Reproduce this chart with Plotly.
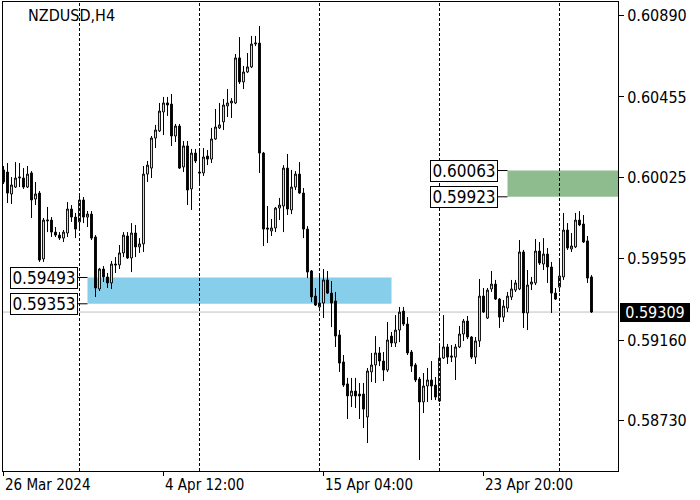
import plotly.graph_objects as go

symbol_title = "NZDUSD,H4"

open_ = [
    0.60066, 0.60055, 0.59938, 0.59975, 0.60023, 0.60023, 0.59975, 0.60050, 0.59911, 0.59943,
    0.59592, 0.59794, 0.59799, 0.59735, 0.59719, 0.59703, 0.59730, 0.59858, 0.59815, 0.59789,
    0.59906, 0.59815, 0.59831, 0.59709, 0.59432, 0.59538, 0.59496, 0.59464, 0.59565, 0.59560,
    0.59624, 0.59714, 0.59597, 0.59730, 0.59656, 0.59672, 0.60044, 0.60076, 0.60236, 0.60274,
    0.60375, 0.60423, 0.60417, 0.60247, 0.60300, 0.60082, 0.60194, 0.59965, 0.60156, 0.60055,
    0.60050, 0.60140, 0.60124, 0.60231, 0.60290, 0.60322, 0.60407, 0.60423, 0.60423, 0.60663,
    0.60535, 0.60588, 0.60615, 0.60737, 0.60742, 0.60156, 0.59757, 0.59741, 0.59757, 0.59863,
    0.59874, 0.60076, 0.59853, 0.59975, 0.60044, 0.59943, 0.59751, 0.59528, 0.59394, 0.59336,
    0.59357, 0.59480, 0.59410, 0.59368, 0.59187, 0.59043, 0.58926, 0.58862, 0.58888, 0.58872,
    0.58872, 0.58750, 0.58990, 0.59027, 0.59091, 0.59048, 0.59000, 0.59181, 0.59144, 0.59213,
    0.59314, 0.59245, 0.59096, 0.59027, 0.58952, 0.58830, 0.58915, 0.58947, 0.58920, 0.58835,
    0.59064, 0.59123, 0.59075, 0.59069, 0.59123, 0.59192, 0.59261, 0.59176, 0.59069, 0.59155,
    0.59394, 0.59277, 0.59432, 0.59458, 0.59378, 0.59282, 0.59330, 0.59389, 0.59426, 0.59432,
    0.59629, 0.59304, 0.59458, 0.59464, 0.59634, 0.59565, 0.59618, 0.59549, 0.59410, 0.59442,
    0.59496, 0.59746, 0.59645, 0.59656, 0.59799, 0.59778, 0.59688, 0.59496,
]

high = [
    0.60087, 0.60103, 0.60028, 0.60108, 0.60103, 0.60076, 0.60087, 0.60060, 0.60002, 0.59954,
    0.59810, 0.59869, 0.59815, 0.59762, 0.59735, 0.59746, 0.59895, 0.59879, 0.59837, 0.59938,
    0.59922, 0.59847, 0.59847, 0.59719, 0.59544, 0.59554, 0.59517, 0.59581, 0.59602, 0.59666,
    0.59735, 0.59735, 0.59783, 0.59773, 0.59703, 0.60087, 0.60114, 0.60247, 0.60306, 0.60423,
    0.60455, 0.60455, 0.60471, 0.60311, 0.60311, 0.60220, 0.60220, 0.60178, 0.60178, 0.60172,
    0.60183, 0.60172, 0.60290, 0.60391, 0.60423, 0.60444, 0.60497, 0.60449, 0.60684, 0.60774,
    0.60620, 0.60689, 0.60780, 0.60780, 0.60833, 0.60162, 0.59874, 0.59805, 0.59869, 0.59917,
    0.60092, 0.60151, 0.60066, 0.60060, 0.60108, 0.59970, 0.59767, 0.59533, 0.59437, 0.59501,
    0.59538, 0.59528, 0.59474, 0.59416, 0.59213, 0.59080, 0.58958, 0.58958, 0.58958, 0.58931,
    0.58931, 0.59011, 0.59091, 0.59181, 0.59123, 0.59096, 0.59256, 0.59203, 0.59293, 0.59336,
    0.59336, 0.59282, 0.59107, 0.59037, 0.58963, 0.58984, 0.59011, 0.59048, 0.58963, 0.59133,
    0.59293, 0.59139, 0.59133, 0.59139, 0.59235, 0.59272, 0.59288, 0.59181, 0.59176, 0.59485,
    0.59437, 0.59437, 0.59528, 0.59480, 0.59384, 0.59373, 0.59416, 0.59480, 0.59480, 0.59693,
    0.59640, 0.59533, 0.59496, 0.59698, 0.59682, 0.59703, 0.59650, 0.59576, 0.59437, 0.59597,
    0.59837, 0.59783, 0.59730, 0.59837, 0.59847, 0.59826, 0.59714, 0.59506,
]

low = [
    0.59991, 0.59890, 0.59885, 0.59970, 0.59975, 0.59965, 0.59970, 0.59810, 0.59879, 0.59576,
    0.59576, 0.59735, 0.59709, 0.59709, 0.59693, 0.59682, 0.59709, 0.59789, 0.59703, 0.59757,
    0.59783, 0.59762, 0.59693, 0.59389, 0.59421, 0.59469, 0.59437, 0.59432, 0.59517, 0.59538,
    0.59602, 0.59592, 0.59522, 0.59602, 0.59624, 0.59629, 0.60002, 0.60023, 0.60183, 0.60268,
    0.60252, 0.60354, 0.60194, 0.60215, 0.60071, 0.60055, 0.59879, 0.59853, 0.60103, 0.59997,
    0.60034, 0.60092, 0.60103, 0.60226, 0.60284, 0.60279, 0.60348, 0.60343, 0.60417, 0.60524,
    0.60497, 0.60583, 0.60609, 0.60726, 0.60050, 0.59661, 0.59677, 0.59714, 0.59735, 0.59799,
    0.59735, 0.59826, 0.59831, 0.59959, 0.59938, 0.59703, 0.59490, 0.59362, 0.59341, 0.59314,
    0.59277, 0.59405, 0.59229, 0.59123, 0.58990, 0.58910, 0.58739, 0.58803, 0.58798, 0.58739,
    0.58691, 0.58611, 0.58936, 0.58931, 0.59021, 0.58941, 0.58990, 0.59123, 0.59123, 0.59149,
    0.59235, 0.59080, 0.58990, 0.58936, 0.58521, 0.58771, 0.58830, 0.58840, 0.58840, 0.58830,
    0.59059, 0.59032, 0.59043, 0.58947, 0.59117, 0.59155, 0.59165, 0.59059, 0.59032, 0.59123,
    0.59304, 0.59272, 0.59416, 0.59373, 0.59224, 0.59256, 0.59309, 0.59373, 0.59416, 0.59426,
    0.59224, 0.59213, 0.59426, 0.59453, 0.59560, 0.59533, 0.59464, 0.59304, 0.59373, 0.59416,
    0.59480, 0.59640, 0.59629, 0.59650, 0.59767, 0.59677, 0.59464, 0.59304,
]

close = [
    0.60002, 0.59943, 0.59986, 0.60023, 0.60028, 0.59975, 0.60044, 0.59906, 0.59938, 0.59586,
    0.59799, 0.59799, 0.59735, 0.59719, 0.59703, 0.59735, 0.59858, 0.59815, 0.59751, 0.59906,
    0.59815, 0.59831, 0.59703, 0.59437, 0.59538, 0.59496, 0.59464, 0.59565, 0.59560, 0.59624,
    0.59719, 0.59597, 0.59730, 0.59656, 0.59672, 0.60044, 0.60092, 0.60236, 0.60279, 0.60380,
    0.60423, 0.60412, 0.60247, 0.60300, 0.60076, 0.60194, 0.59959, 0.60156, 0.60114, 0.60050,
    0.60135, 0.60124, 0.60231, 0.60295, 0.60306, 0.60412, 0.60423, 0.60433, 0.60663, 0.60535,
    0.60588, 0.60615, 0.60737, 0.60742, 0.60156, 0.59751, 0.59751, 0.59757, 0.59863, 0.59879,
    0.60076, 0.59858, 0.59975, 0.60044, 0.59943, 0.59751, 0.59522, 0.59389, 0.59346, 0.59357,
    0.59480, 0.59410, 0.59357, 0.59181, 0.59037, 0.58920, 0.58862, 0.58888, 0.58862, 0.58862,
    0.58792, 0.58995, 0.59027, 0.59091, 0.59048, 0.59000, 0.59160, 0.59144, 0.59213, 0.59309,
    0.59245, 0.59091, 0.59021, 0.58947, 0.58830, 0.58915, 0.58947, 0.58915, 0.58856, 0.59064,
    0.59123, 0.59069, 0.59069, 0.59123, 0.59192, 0.59261, 0.59176, 0.59069, 0.59155, 0.59394,
    0.59309, 0.59426, 0.59458, 0.59378, 0.59282, 0.59341, 0.59394, 0.59432, 0.59464, 0.59629,
    0.59304, 0.59453, 0.59469, 0.59634, 0.59570, 0.59618, 0.59549, 0.59410, 0.59378, 0.59501,
    0.59746, 0.59650, 0.59661, 0.59799, 0.59773, 0.59682, 0.59490, 0.59309,
]

bar_index = list(range(len(close)))

time_tick_index = [0, 40, 80, 120]
time_tick_labels = ["26 Mar 2024", "4 Apr 12:00", "15 Apr 04:00", "23 Apr 20:00"]
week_separator_index = [19, 49, 79, 109, 139]

price_ticks = [0.60890, 0.60455, 0.60025, 0.59595, 0.59160, 0.58730]
last_price = 0.59309

blue_zone = {"top": 0.59493, "bottom": 0.59353, "start": 21, "end": 97}
green_zone = {"top": 0.60063, "bottom": 0.59923, "start": 126}

x_range = [-0.125, 153.625]
y_range = [0.584621, 0.609609]

FONT = "DejaVu Sans Condensed, Liberation Sans, sans-serif"

fig = go.Figure()
fig.add_trace(go.Candlestick(
    x=bar_index, open=open_, high=high, low=low, close=close,
    increasing=dict(line=dict(color="black", width=1), fillcolor="white"),
    decreasing=dict(line=dict(color="black", width=1), fillcolor="black"),
    whiskerwidth=0, hoverinfo="skip", showlegend=False,
))

shapes = []
shapes.append(dict(type="rect", xref="x", yref="y", x0=blue_zone["start"], x1=blue_zone["end"],
                   y0=blue_zone["bottom"], y1=blue_zone["top"], fillcolor="#87CEEB",
                   line=dict(width=0), layer="below"))
shapes.append(dict(type="rect", xref="x", yref="y", x0=green_zone["start"], x1=x_range[1],
                   y0=green_zone["bottom"], y1=green_zone["top"], fillcolor="#8FBC8F",
                   line=dict(width=0), layer="below"))
shapes.append(dict(type="line", xref="paper", yref="y", x0=0, x1=1, y0=last_price, y1=last_price,
                   line=dict(color="#C0C0C0", width=1), layer="below"))
for s in week_separator_index:
    shapes.append(dict(type="line", xref="x", yref="paper", x0=s, x1=s, y0=0, y1=1,
                       line=dict(color="black", width=1, dash="3px,2px"), layer="above"))

annotations = []
for zone in (blue_zone, green_zone):
    for price in (zone["top"], zone["bottom"]):
        shapes.append(dict(type="line", xref="x", yref="y", xsizemode="pixel",
                           xanchor=zone["start"], x0=-10, x1=0, y0=price, y1=price,
                           line=dict(color="black", width=1)))
        annotations.append(dict(xref="x", yref="y", x=zone["start"], y=price, xanchor="right",
                                yanchor="middle", xshift=-10, text=f"{price:.5f}", showarrow=False,
                                font=dict(family=FONT, size=17, color="black"),
                                bgcolor="white", bordercolor="black", borderwidth=1, borderpad=1,
                                width=64, height=18))

annotations.append(dict(xref="paper", yref="y", x=1, y=last_price, xanchor="left", yanchor="middle",
                        xshift=2, text=f"{last_price:.5f}", showarrow=False,
                        font=dict(family=FONT, size=16, color="white"),
                        bgcolor="black", bordercolor="black", borderwidth=1, borderpad=1,
                        width=66, height=15))

annotations.append(dict(xref="paper", yref="paper", x=0, y=1, xanchor="left", yanchor="middle",
                        xshift=23, yshift=-13, text=symbol_title, showarrow=False,
                        font=dict(family=FONT, size=16, color="black")))

for idx, lab in zip(time_tick_index, time_tick_labels):
    annotations.append(dict(xref="x", yref="paper", x=idx, y=0, xanchor="left", yanchor="middle",
                            xshift=-1, yshift=-14, text=lab, showarrow=False,
                            font=dict(family=FONT, size=15, color="black")))

fig.update_layout(
    width=700, height=500,
    margin=dict(l=3, r=82, t=2, b=29, pad=0),
    paper_bgcolor="white", plot_bgcolor="white",
    boxgap=0.35,
    shapes=shapes, annotations=annotations,
    xaxis=dict(range=x_range, rangeslider=dict(visible=False), showgrid=False, zeroline=False,
               showline=True, linecolor="black", linewidth=1, mirror=True,
               tickvals=time_tick_index, ticktext=[""] * len(time_tick_index),
               ticks="outside", ticklen=4, tickcolor="black", showticklabels=False),
    yaxis=dict(range=y_range, side="right", showgrid=False, zeroline=False,
               showline=True, linecolor="black", linewidth=1, mirror=True,
               tickvals=price_ticks, ticktext=[f"{p:.5f}" for p in price_ticks],
               ticks="outside", ticklen=5, tickcolor="black",
               tickfont=dict(family=FONT, size=16, color="black")),
    hovermode=False,
)

fig.write_html("out.html", config={"displayModeBar": False},
               post_script="document.body.style.margin='0';document.body.style.overflow='hidden';")
